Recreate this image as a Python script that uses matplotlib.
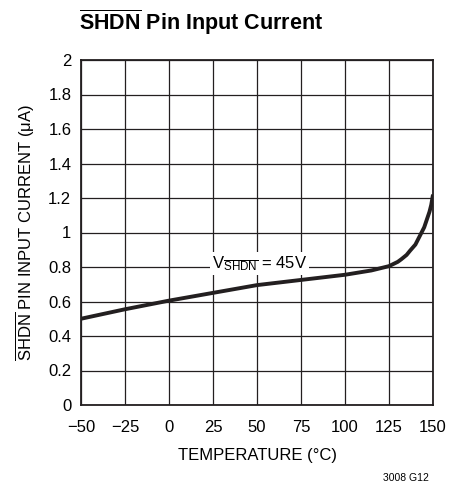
import matplotlib
matplotlib.use("Agg")
import matplotlib.pyplot as plt
from matplotlib import font_manager

names = {f.name for f in font_manager.fontManager.ttflist}
FONT = "Liberation Sans Narrow" if "Liberation Sans Narrow" in names else "Liberation Sans"
plt.rcParams['font.family'] = [FONT, 'DejaVu Sans']
plt.rcParams['mathtext.fontset'] = 'custom'
plt.rcParams['mathtext.rm'] = FONT
plt.rcParams['mathtext.it'] = FONT
plt.rcParams['mathtext.bf'] = FONT + ':bold'

temperature = [-50, -25, 0, 25, 50, 75, 100, 115, 125, 127, 130, 132, 135, 137, 140, 142, 145, 146, 148, 149, 150]
current = [0.50, 0.555, 0.605, 0.65, 0.695, 0.725, 0.755, 0.78, 0.805, 0.815, 0.83, 0.845, 0.87, 0.895, 0.93, 0.97, 1.03, 1.06, 1.12, 1.16, 1.22]
xticks = [-50, -25, 0, 25, 50, 75, 100, 125, 150]
xticklabels = ['\u221250', '\u221225', '0', '25', '50', '75', '100', '125', '150']
yticks = [0, 0.2, 0.4, 0.6, 0.8, 1.0, 1.2, 1.4, 1.6, 1.8, 2.0]
yticklabels = ['0', '0.2', '0.4', '0.6', '0.8', '1', '1.2', '1.4', '1.6', '1.8', '2']

fig = plt.figure(figsize=(4.61, 4.88), dpi=100)
ax = fig.add_axes([81/461, 1-405/488, 352/461, 345/488])
ax.plot(temperature, current, color='#231f20', lw=2.8, solid_capstyle='butt', zorder=3)
ax.set_xlim(-50, 150)
ax.set_ylim(0, 2)
ax.set_xticks(xticks)
ax.set_xticklabels(xticklabels, fontsize=12)
ax.set_yticks(yticks)
ax.set_yticklabels(yticklabels, fontsize=12)
ax.tick_params(axis='x', length=0, pad=11)
ax.tick_params(axis='y', length=0, pad=7)
ax.grid(True, color='#231f20', lw=0.9)
for s in ax.spines.values():
    s.set_linewidth(1.3)
    s.set_color('#231f20')
ax.set_xlabel('TEMPERATURE (°C)', fontsize=12, labelpad=9)
ax.set_ylabel(r'$\overline{\mathrm{SHDN}}$ PIN INPUT CURRENT (μA)', fontsize=12, labelpad=8)
ax.text(51.5, 0.82, r'V$_{\overline{\mathrm{SHDN}}}$ = 45V', fontsize=12, ha='center', va='center',
        bbox=dict(facecolor='white', edgecolor='none', pad=1.5), zorder=4)
fig.text(79/461, 1-22/488, r'$\mathbf{\overline{SHDN}}$ Pin Input Current', fontsize=15.5,
         fontweight='bold', ha='left', va='center')
fig.text(406/461, 1-478/488, '3008 G12', fontsize=7.5, ha='center', va='center')
fig.savefig('out.png', dpi=100)
